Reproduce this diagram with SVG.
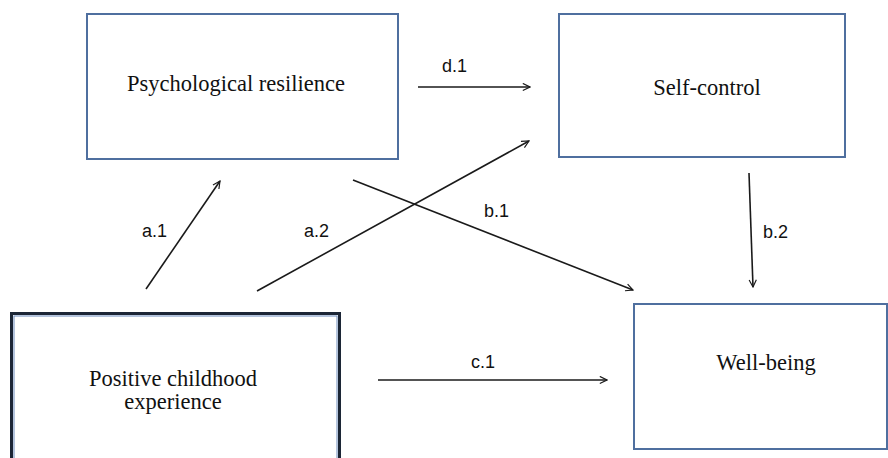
<svg xmlns="http://www.w3.org/2000/svg" width="888" height="458" viewBox="0 0 888 458">
<defs>
<marker id="arr" viewBox="0 0 10 10" refX="9" refY="5" markerWidth="9" markerHeight="9" markerUnits="userSpaceOnUse" orient="auto">
<path d="M1,1 L9,5 L1,9" fill="none" stroke="#1a1a1a" stroke-width="1.3"/>
</marker>
<style>
.box{fill:#fff;stroke:#4f6f9f;stroke-width:2}
.t{font-family:'Liberation Serif','DejaVu Serif',serif;font-size:22.5px;fill:#111;text-anchor:middle}
.lbl{font-family:'Liberation Sans',Arial,sans-serif;font-size:18px;fill:#111}
.c{stroke:#1a1a1a;stroke-width:1.6;fill:none;marker-end:url(#arr)}
</style>
</defs>
<rect width="888" height="458" fill="#fff"/>
<g id="psych">
<rect class="box" x="87" y="14" width="311" height="145"/>
<text class="t" x="236" y="91" font-family="Liberation Serif, serif">Psychological resilience</text>
</g>
<g id="selfcontrol">
<rect class="box" x="559" y="14" width="286" height="143"/>
<text class="t" x="707" y="95" font-family="Liberation Serif, serif">Self-control</text>
</g>
<g id="wellbeing">
<rect class="box" x="634" y="304" width="253" height="145"/>
<text class="t" x="766" y="370" font-family="Liberation Serif, serif">Well-being</text>
</g>
<g id="pce">
<rect x="11.5" y="313.5" width="328" height="160" fill="#fff" stroke="#1c2636" stroke-width="3"/>
<rect x="14" y="316" width="323" height="155" fill="none" stroke="#6a8abb" stroke-width="1"/>
<text class="t" x="173" y="386" font-family="Liberation Serif, serif">Positive childhood</text>
<text class="t" x="173" y="409" font-family="Liberation Serif, serif">experience</text>
</g>
<g id="connectors">
<line class="c" x1="418" y1="87" x2="530" y2="87"/>
<line class="c" x1="749" y1="173" x2="753" y2="287"/>
<line class="c" x1="353" y1="180" x2="633" y2="290"/>
<line class="c" x1="257" y1="291" x2="529" y2="141"/>
<line class="c" x1="146" y1="289" x2="220" y2="181"/>
<line class="c" x1="378" y1="380" x2="607" y2="380"/>
<text class="lbl" x="442" y="72">d.1</text>
<text class="lbl" x="763" y="238">b.2</text>
<text class="lbl" x="484" y="217">b.1</text>
<text class="lbl" x="142" y="237">a.1</text>
<text class="lbl" x="304" y="237">a.2</text>
<text class="lbl" x="471" y="368">c.1</text>
</g>
</svg>
